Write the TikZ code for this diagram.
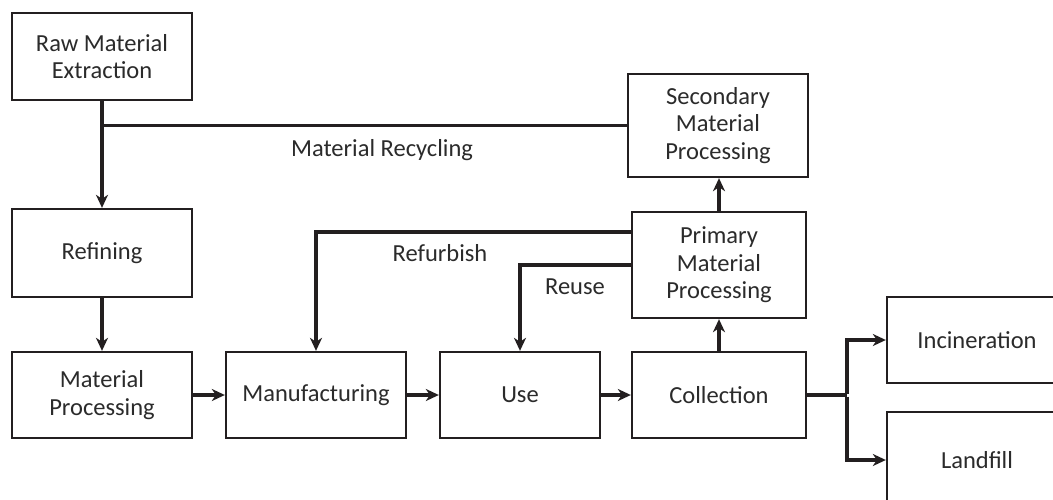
\documentclass[tikz,border=0pt]{standalone}
\usepackage{fontspec}
\setmainfont{Carlito}
\usetikzlibrary{arrows.meta,positioning}
\definecolor{ink}{HTML}{231F20}
\definecolor{txt}{HTML}{2B2B2B}
\tikzset{
  box/.style={draw=ink,line width=2.3pt,rectangle,inner sep=0pt,align=center,
    font=\fontsize{24.5}{27.5}\selectfont,text=txt},
  conn/.style={draw=ink,line width=3.3pt},
  arr/.style={conn,-{Stealth[length=13pt,width=12pt,inset=4pt]}},
  lbl/.style={font=\fontsize{24.5}{27.5}\selectfont,text=txt,inner sep=0pt}
}
\begin{document}
\begin{tikzpicture}[x=1pt,y=-1pt]
\useasboundingbox (0,0) rectangle (1053,499);
\fill[white] (0,0) rectangle (1053,499);
\clip (0,0) rectangle (1053,499);
\node[box,minimum width=180pt,minimum height=87pt] (raw) at (102,56.5) {Raw Material\\Extraction};
\node[box,minimum width=180pt,minimum height=88pt] (ref) at (102,253) {Refining};
\node[box,minimum width=180pt,minimum height=86pt] (mp) at (102,395) {Material\\Processing};
\node[box,minimum width=180pt,minimum height=86pt] (man) at (316,395) {Manufacturing};
\node[box,minimum width=160pt,minimum height=86pt] (use) at (520,395) {Use};
\node[box,minimum width=174pt,minimum height=86pt] (col) at (719,395) {Collection};
\node[box,minimum width=174pt,minimum height=106pt] (pri) at (719,265) {Primary\\Material\\Processing};
\node[box,minimum width=180pt,minimum height=103pt] (sec) at (718,125.5) {Secondary\\Material\\Processing};
\node[box,minimum width=180pt,minimum height=86pt] (inc) at (977,340) {Incineration};
\node[box,minimum width=180pt,minimum height=96pt] (land) at (977,460) {Landfill};
\node[lbl] (lrec) at (382,150) {Material Recycling};
\node[lbl] (lref) at (440,253) {Refurbish};
\node[lbl] (luse) at (575,287) {Reuse};
\coordinate (br) at (847,395);
\draw[arr] (raw.south) -- (ref.north);
\draw[conn] (sec.west) -- (raw.south |- sec.west);
\draw[arr] (ref.south) -- (mp.north);
\draw[arr] (mp.east) -- (man.west);
\draw[arr] (man.east) -- (use.west);
\draw[arr] (use.east) -- (col.west);
\draw[arr] (col.north) -- (pri.south);
\draw[arr] (pri.north) -- (pri.north |- sec.south);
\draw[arr] ([yshift=33pt]pri.west) -| (man.north);
\draw[arr] (pri.west) -| (use.north);
\draw[conn,line width=4.3pt] (col.east) -- (br);
\draw[arr] ([yshift=1.5pt]br) |- (inc.west);
\draw[arr] ([yshift=-1.5pt]br) |- (land.west);
\end{tikzpicture}
\end{document}
